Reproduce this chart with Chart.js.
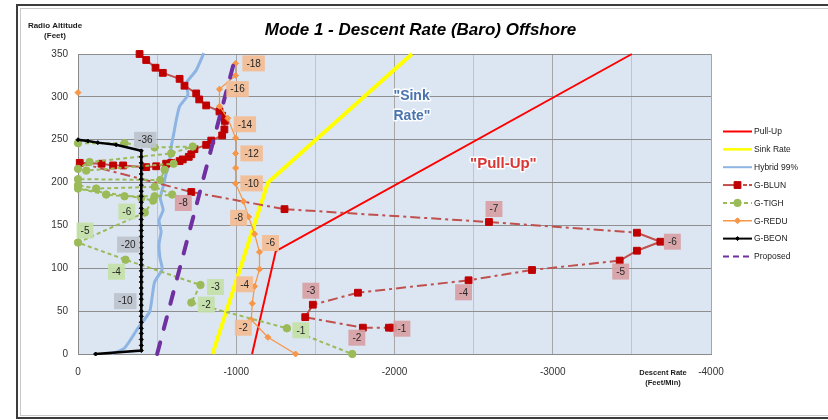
<!DOCTYPE html>
<html>
<head>
<meta charset="utf-8">
<script src="https://cdn.jsdelivr.net/npm/chart.js@4.4.1/dist/chart.umd.min.js"></script>
<style>
html,body{margin:0;padding:0;background:#fff;}
#wrap{position:relative;width:828px;height:420px;overflow:hidden;}
canvas{display:block;}
</style>
</head>
<body>
<div id="wrap"><canvas id="c" width="828" height="420"></canvas></div>
<script>
// ---------- DATA ----------
const xTickLabels = [0, -1000, -2000, -3000, -4000];
const yTickLabels = [0, 50, 100, 150, 200, 250, 300, 350];

const pullUpX = [-1100, -1250, -3500];
const pullUpY = [0, 120, 350];

const sinkX = [-850, -1200, -2110];
const sinkY = [0, 200, 350];

const hybridX = [-210, -294, -378, -452, -468, -484, -532, -518, -512, -525, -512, -538, -520, -540, -556, -578, -589, -606, -621, -642, -694, -684, -716, -747, -795];
const hybridY = [0, 7, 30, 49, 66, 84, 99, 112, 128, 143, 156, 168, 182, 197, 210, 223, 242, 258, 273, 289, 302, 316, 324, 331, 351];

const bluX = [-389, -431, -490, -536, -642, -673, -747, -766, -810, -894, -911, -928, -925, -911, -842, -810, -736, -716, -700, -662, -642, -589, -557, -494, -431, -285, -222, -149, -11,
              -716, -1305, -2597, -3532, -3680, -3532, -3423, -2869, -2468, -1769, -1484, -1436, -1800, -1965, -1990];
const bluY = [350, 343, 334, 328, 321, 313, 304, 297, 290, 283, 278, 272, 262, 255, 249, 244, 239, 233, 230, 227, 225, 223, 222, 219, 218, 220, 220, 222, 223,
              189, 169, 154, 141.5, 131, 120.5, 109, 98, 86, 71.5, 57.5, 43, 30.7, 30.7, 30.7];
const bluLabels = ['', '', '', '', '', '', '', '', '', '', '', '', '', '', '', '', '', '', '', '', '', '', '', '', '', '', '', '', '',
                   '-8', '', '-7', '', '-6', '', '-5', '', '-4', '', '-3', '', '-2', '', '-1'];

const tighX = [0, -294, -484, -725, -589, -73, 0, -52, -604, -547, -520, 0, 0, -115, -484, -595, -484, -294, -178, 0, -400, -475, -422, 0, -300, -774, -716, -1320, -1733];
const tighY = [246, 246, 241, 242, 234, 224, 216, 214, 222, 215, 203, 204, 197, 193, 195, 186, 184, 184, 186, 193, 182, 179, 165, 130, 110, 80.5, 60, 30, 0];
const tighLabels = ['', '', '', '', '', '', '', '', '', '', '', '', '', '', '', '', '', '', '', '', '', '', '-6', '-5', '-4', '-3', '-2', '-1', ''];

const reduX = [0, null, -996, -996, -894, -894, -947, -996, -996, -996, -996, -1046, -1078, -1116, -1147, -1147, -1116, -1101, -1095, -1200, -1375];
const reduY = [305, null, 339, 325, 309, 289, 275, 252, 234, 217, 199, 178, 160, 140, 119, 99, 79, 59, 40, 19.5, 0];
const reduLabels = ['', '', '-18', '', '-16', '', '-14', '', '-12', '', '-10', '', '-8', '', '-6', '', '-4', '', '-2', '', ''];

const beonX = [0, -62, -125, -241,
               -400, -400, -400, -400, -400, -400, -400, -400, -400, -400, -400, -400,
               -400, -400, -400, -400, -400, -400, -400, -400, -400, -400, -400, -400,
               -400, -400, -400, -400, -400, -400, -400, -400, -400, -400, -400, -400,
               -111];
const beonY = [250, 248.5, 246.6, 244,
               237, 230, 223, 217, 210, 204, 197, 190, 184, 177, 170, 164,
               157, 150, 144, 137, 130, 124, 117, 110, 104, 97, 90, 84,
               77, 70, 64, 57, 50, 44, 37, 30, 24, 17, 10, 4,
               0];
const beonLabels = ['', '', '', '',
                    '-36', '', '', '', '', '', '', '', '', '', '', '',
                    '', '', '', '', '-20', '', '', '', '', '', '', '',
                    '', '', '-10', '', '', '', '', '', '', '', '', '',
                    ''];

const proposedX = [-500, -1000];
const proposedY = [0, 350];

// ---------- helpers / styling ----------
const FONT = '"Liberation Sans", Arial, sans-serif';
const pts = (xs, ys) => xs.map((x, i) => ({ x: x, y: ys[i] }));

const labelOffsets = {
  blun: { '-8': [-8, 11], '-7': [5, -13], '-6': [12, 0], '-5': [1, 11], '-4': [-5, 12], '-3': [-2, -14], '-2': [-6, 10], '-1': [9, 1] },
  tigh: { '-1': [14, 2], '-2': [15, 2], '-3': [15, 2], '-4': [-9, 12], '-5': [7, -12], '-6': [-18, -1] },
  redu: { '-18': [18, 0], '-16': [18, 0], '-14': [17, 6], '-12': [16, 0], '-10': [16, 0], '-8': [-10, 1], '-6': [11, -9], '-4': [-10, -2], '-2': [-8, 8] },
  beon: { '-36': [4, -11], '-20': [-13, 2], '-10': [-16, 2] }
};

const datasets = [
  { label: 'Pull-Up', data: pts(pullUpX, pullUpY), borderColor: '#FF0000', borderWidth: 2, pointRadius: 0, order: 8,
    legendDash: [], legendWidth: 2 },
  { label: 'Sink Rate', data: pts(sinkX, sinkY), borderColor: '#FFFF00', borderWidth: 4, pointRadius: 0, order: 7,
    legendDash: [], legendWidth: 2.5 },
  { label: 'Hybrid 99%', data: pts(hybridX, hybridY), borderColor: '#8DB4E2', borderWidth: 3, pointRadius: 0, tension: 0.2, order: 6,
    legendDash: [], legendWidth: 2 },
  { label: 'G-BLUN', data: pts(bluX, bluY), borderColor: '#C0504D', borderWidth: 2, order: 5,
    pointStyle: 'rect', pointRadius: 4.8, pointBackgroundColor: '#C00000', pointBorderColor: '#C00000', pointBorderWidth: 1,
    segment: {
      borderDash: c => (Math.hypot(c.p1.x - c.p0.x, c.p1.y - c.p0.y) < 25.8 ? [] : [10, 4, 3, 4]),
      borderDashOffset: c => c.p0DataIndex * 0.001
    },
    pointLabels: bluLabels, offsets: labelOffsets.blun, labelBg: 'rgba(214,160,164,0.92)',
    legendDash: [12, 0, 0, 0], legendWidth: 2 },
  { label: 'G-TIGH', data: pts(tighX, tighY), borderColor: '#9BBB59', borderWidth: 2, borderDash: [4, 3], order: 4,
    pointStyle: 'circle', pointRadius: 3.7, pointBackgroundColor: '#9BBB59', pointBorderColor: '#9BBB59', pointBorderWidth: 1,
    pointLabels: tighLabels, offsets: labelOffsets.tigh, labelBg: 'rgba(195,225,168,0.92)',
    legendDash: [4, 3], legendWidth: 2 },
  { label: 'G-REDU', data: pts(reduX, reduY), borderColor: '#F79646', borderWidth: 1.25, order: 3,
    pointStyle: 'rectRot', pointRadius: 3, pointBackgroundColor: '#F79646', pointBorderColor: '#F79646', pointBorderWidth: 1,
    pointLabels: reduLabels, offsets: labelOffsets.redu, labelBg: 'rgba(243,188,148,0.92)',
    legendDash: [], legendWidth: 1.5 },
  { label: 'G-BEON', data: pts(beonX, beonY), borderColor: '#000000', borderWidth: 2.5, order: 2,
    pointStyle: 'rectRot', pointRadius: 2, pointBackgroundColor: '#000000', pointBorderColor: '#000000', pointBorderWidth: 1,
    pointLabels: beonLabels, offsets: labelOffsets.beon, labelBg: 'rgba(190,196,205,0.95)',
    legendDash: [], legendWidth: 2 },
  { label: 'Proposed', data: pts(proposedX, proposedY), borderColor: '#7030A0', borderWidth: 4, borderDash: [12, 14],
    borderCapStyle: 'round', pointRadius: 0, order: 1,
    legendDash: [6, 4], legendWidth: 2 }
];
datasets.forEach(d => { d.showLine = true; d.fill = false; d.clip = false; d.spanGaps = false; if (d.pointRadius === 0) d.pointHoverRadius = 0; });

// ---------- plugins ----------
const framePlugin = {
  id: 'frame',
  beforeDraw(chart) {
    const ctx = chart.ctx, a = chart.chartArea;
    ctx.save();
    ctx.fillStyle = '#ffffff';
    ctx.fillRect(0, 0, chart.width, chart.height);
    ctx.strokeStyle = '#3C3C3C';
    ctx.lineWidth = 2;
    ctx.strokeRect(17, 5, 900, 413);
    ctx.strokeStyle = '#C8C8C8';
    ctx.lineWidth = 1;
    ctx.strokeRect(20.5, 8.5, 900, 407);
    ctx.fillStyle = '#DCE6F2';
    ctx.fillRect(a.left, a.top, a.right - a.left, a.bottom - a.top);
    ctx.restore();
  }
};

const pointLabelPlugin = {
  id: 'pointLabels',
  afterDatasetsDraw(chart) {
    const ctx = chart.ctx;
    ctx.save();
    ctx.font = '10px ' + FONT;
    ctx.textAlign = 'center';
    ctx.textBaseline = 'middle';
    chart.data.datasets.forEach((ds, di) => {
      if (!ds.pointLabels) return;
      const meta = chart.getDatasetMeta(di);
      ds.pointLabels.forEach((txt, i) => {
        if (!txt) return;
        const el = meta.data[i];
        if (!el || isNaN(el.x) || isNaN(el.y)) return;
        const off = ds.offsets[txt] || [0, 0];
        const cx = el.x + off[0], cy = el.y + off[1];
        const w = ctx.measureText(txt).width + 8, h = 16;
        ctx.fillStyle = ds.labelBg;
        ctx.fillRect(cx - w / 2, cy - h / 2, w, h);
        ctx.fillStyle = '#262626';
        ctx.fillText(txt, cx, cy + 0.5);
      });
    });
    ctx.restore();
  }
};

const textPlugin = {
  id: 'texts',
  afterDraw(chart) {
    const ctx = chart.ctx, xs = chart.scales.x, ys = chart.scales.y;
    ctx.save();
    // title
    ctx.fillStyle = '#000';
    ctx.textAlign = 'center';
    ctx.textBaseline = 'middle';
    ctx.font = 'italic bold 17px ' + FONT;
    ctx.fillText('Mode 1 - Descent Rate (Baro) Offshore', 420.5, 30);
    // y axis title
    ctx.font = 'bold 8px ' + FONT;
    ctx.fillStyle = '#1a1a1a';
    ctx.fillText('Radio Altitude', 55, 26);
    ctx.fillText('(Feet)', 55, 36);
    // x axis title
    ctx.font = 'bold 7.5px ' + FONT;
    ctx.fillText('Descent Rate', 663, 373);
    ctx.fillText('(Feet/Min)', 663, 383);

    // annotations with white glow
    const glowText = (t, x, y, color, font, align) => {
      ctx.font = font;
      ctx.textAlign = align;
      ctx.lineJoin = 'round';
      ctx.strokeStyle = 'rgba(255,255,255,0.9)';
      ctx.lineWidth = 3;
      ctx.strokeText(t, x, y);
      ctx.fillStyle = color;
      ctx.fillText(t, x, y);
    };
    glowText('"Sink', xs.getPixelForValue(-2000) - 1, ys.getPixelForValue(301), '#4A74AD', 'bold 14px ' + FONT, 'left');
    glowText('Rate"', xs.getPixelForValue(-2000) - 1, ys.getPixelForValue(277), '#4A74AD', 'bold 14px ' + FONT, 'left');
    glowText('"Pull-Up"', xs.getPixelForValue(-2688), ys.getPixelForValue(222), '#D93636', 'bold 15px ' + FONT, 'center');

    // legend
    const lx0 = 723, lx1 = 752, ly0 = 131.5, step = 17.85;
    chart.data.datasets.forEach((ds, i) => {
      const y = ly0 + i * step;
      ctx.save();
      ctx.strokeStyle = ds.borderColor;
      ctx.lineWidth = ds.legendWidth;
      if (ds.label === 'G-BLUN') {
        ctx.setLineDash([]);
        ctx.beginPath(); ctx.moveTo(lx0, y); ctx.lineTo(lx0 + 17, y); ctx.stroke();
        ctx.beginPath(); ctx.moveTo(lx0 + 20, y); ctx.lineTo(lx0 + 24, y); ctx.moveTo(lx0 + 26, y); ctx.lineTo(lx1, y); ctx.stroke();
      } else {
        ctx.setLineDash(ds.legendDash);
        ctx.beginPath(); ctx.moveTo(lx0, y); ctx.lineTo(lx1, y); ctx.stroke();
      }
      ctx.restore();
      if (ds.pointRadius) {
        ctx.save();
        ctx.fillStyle = ds.pointBackgroundColor;
        ctx.strokeStyle = ds.pointBorderColor;
        ctx.lineWidth = 1;
        Chart.helpers.drawPoint(ctx, { pointStyle: ds.pointStyle, radius: ds.pointRadius, borderWidth: 1, rotation: 0 }, (lx0 + lx1) / 2, y);
        ctx.restore();
      }
      ctx.fillStyle = '#1a1a1a';
      ctx.font = '8.5px ' + FONT;
      ctx.textAlign = 'left';
      ctx.textBaseline = 'middle';
      ctx.fillText(ds.label, 754, y + 0.5);
    });
    ctx.restore();
  }
};

// ---------- chart ----------
new Chart(document.getElementById('c'), {
  type: 'scatter',
  data: { datasets: datasets },
  options: {
    responsive: false,
    animation: false,
    devicePixelRatio: 1,
    layout: { padding: { left: 0, top: 54, right: 117, bottom: 0 } },
    plugins: { legend: { display: false }, tooltip: { enabled: false }, title: { display: false } },
    elements: { line: { tension: 0 } },
    scales: {
      x: {
        type: 'linear', min: -4000, max: 0, reverse: true,
        afterFit: s => { s.height = 66; },
        ticks: {
          stepSize: 500, autoSkip: false, maxRotation: 0, padding: 12, color: '#333',
          font: { size: 10, family: FONT },
          callback: v => (xTickLabels.includes(v) ? String(v) : '')
        },
        grid: { drawTicks: false, lineWidth: 1,
          color: c => (c.tick && c.tick.value % 1000 === 0 ? '#A6A6A6' : '#BEC5CF') },
        border: { display: true, color: '#8A8A8A' }
      },
      y: {
        type: 'linear', min: 0, max: 350,
        afterFit: s => { s.width = 78; },
        ticks: {
          stepSize: 50, padding: 10, color: '#333', font: { size: 10, family: FONT },
          callback: v => (yTickLabels.includes(v) ? String(v) : '')
        },
        grid: { drawTicks: false, color: '#8E8E8E', lineWidth: 1 },
        border: { display: true, color: '#8A8A8A' }
      }
    }
  },
  plugins: [framePlugin, pointLabelPlugin, textPlugin]
});
</script>
</body>
</html>
